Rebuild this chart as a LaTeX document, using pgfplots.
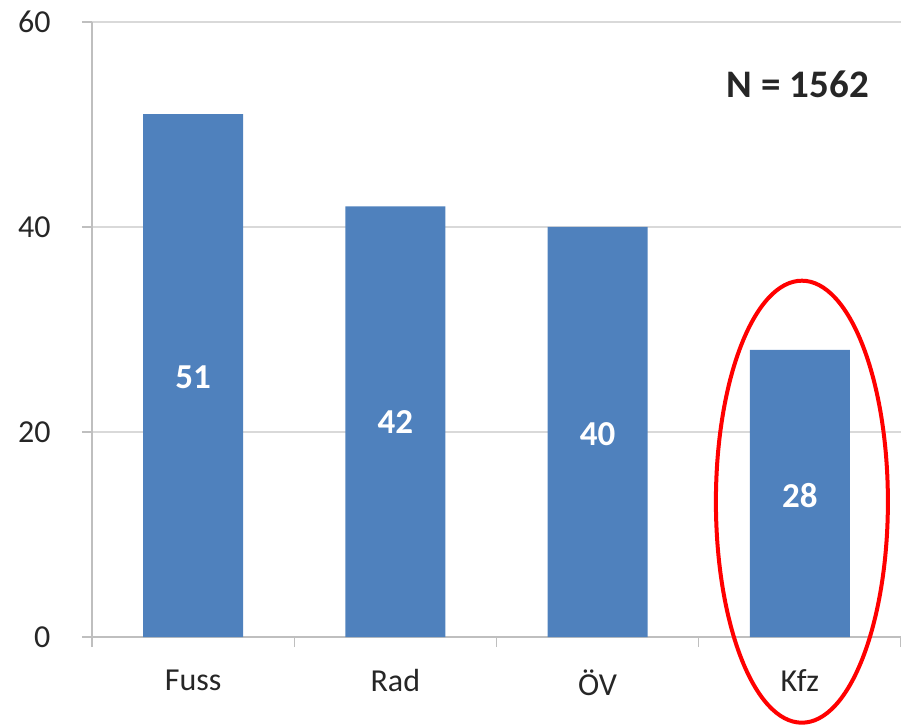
\documentclass[border=0pt]{standalone}
\usepackage{pgfplots}
\pgfplotsset{compat=1.18}
\usepackage{fontspec}
\setmainfont{Carlito}
\definecolor{barblue}{HTML}{4F81BD}
\definecolor{gridgray}{HTML}{D9D9D9}
\definecolor{axgray}{HTML}{BFBFBF}
\definecolor{txtgray}{HTML}{262626}
\begin{document}
\begin{tikzpicture}
\useasboundingbox (0pt,0pt) rectangle (901pt,725pt);
\begin{axis}[
  at={(92pt,88pt)}, anchor=south west,
  scale only axis, width=809pt, height=615pt,
  xmin=-0.5, xmax=3.5, ymin=0, ymax=60,
  ytick={0,20,40,60},
  xtick={0,1,2,3},
  xticklabels={Fuss,Rad,ÖV,Kfz},
  minor xtick={-0.5,0.5,1.5,2.5,3.5},
  major x tick style={draw=none},
  minor x tick style={draw=axgray, line width=1.2pt},
  minor tick length=10pt,
  x tick label style={yshift=-19pt},
  ymajorgrids, grid style={gridgray, line width=1.5pt},
  axis x line*=bottom, axis y line*=left,
  axis line style={axgray, line width=1.5pt, -},
  ytick style={draw=axgray, line width=1.2pt},
  major tick length=10pt,
  y tick label style={xshift=-28pt},
  tick align=outside,
  ticklabel style={font=\fontsize{32}{36}\selectfont, text=txtgray},
  /pgf/number format/assume math mode=true,
  clip=false,
]
\addplot[ybar, bar width=100pt, fill=barblue, draw=none] coordinates {(0,51) (1,42) (2,40) (3,28)};
\addplot[only marks, mark=none, nodes near coords, point meta=explicit symbolic,
  every node near coord/.style={anchor=center, text=white, font=\bfseries\fontsize{35}{40}\selectfont}]
  coordinates {(0,25.3)[51] (1,21)[42] (2,19.8)[40] (3,13.8)[28]};
\node[font=\bfseries\fontsize{39}{44}\selectfont, text=txtgray] at (axis cs:2.99,53.9) {N = 1562};
\draw[red, line width=4pt] (axis cs:3.01,13.2) ellipse [x radius=86pt, y radius=221pt];
\end{axis}
\end{tikzpicture}
\end{document}
